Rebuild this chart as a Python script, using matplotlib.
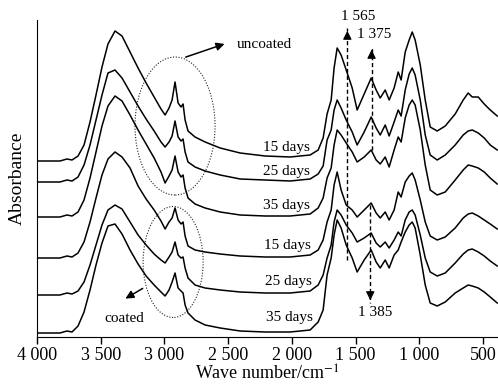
import matplotlib
matplotlib.use("Agg")
import matplotlib.pyplot as plt
import numpy as np
from matplotlib.patches import Ellipse

plt.rcParams["font.family"] = ["Liberation Serif", "DejaVu Serif"]
plt.rcParams["mathtext.fontset"] = "stix"

# wave numbers (cm-1) shared by all spectra
wavenumber = [4000, 3820, 3765, 3725, 3678, 3631, 3584, 3537, 3490, 3443,
              3388, 3333, 3270, 3207, 3144, 3081, 3027, 2995, 2964, 2940,
              2917, 2893, 2870, 2854, 2838, 2815, 2760, 2681, 2563, 2406,
              2210, 2014, 1857, 1794, 1755, 1724, 1692, 1669, 1645, 1614,
              1574, 1527, 1488, 1433, 1378, 1339, 1307, 1268, 1237, 1198,
              1166, 1143, 1111, 1080, 1056, 1033, 993, 954, 915, 860,
              797, 719, 656, 617, 585, 538, 491, 444, 389]

# stacked absorbance, in 0.01 a.u.
uncoated_15 = [176, 176, 178, 177, 181, 192, 215, 242, 270, 293,
               306, 301, 285, 269, 254, 240, 228, 222, 229, 237,
               255, 234, 230, 233, 217, 206, 200, 195, 189, 184,
               181, 180, 182, 187, 199, 223, 237, 269, 289, 282,
               267, 249, 227, 243, 259, 247, 239, 247, 237, 249,
               265, 257, 285, 297, 305, 297, 272, 237, 210, 206,
               211, 223, 237, 244, 240, 240, 233, 227, 221]
uncoated_25 = [155, 155, 157, 156, 160, 172, 192, 217, 242, 264,
               267, 259, 245, 231, 218, 206, 195, 190, 195, 201,
               216, 200, 196, 198, 185, 175, 170, 166, 162, 158,
               157, 156, 158, 163, 171, 197, 207, 227, 237, 229,
               217, 205, 192, 205, 220, 209, 202, 212, 201, 215,
               227, 221, 247, 263, 269, 262, 237, 202, 182, 177,
               182, 192, 202, 206, 207, 204, 199, 192, 187]
uncoated_35 = [120, 120, 122, 121, 125, 137, 159, 185, 211, 231,
               241, 236, 222, 207, 193, 179, 165, 154, 161, 167,
               181, 165, 160, 162, 149, 139, 133, 129, 125, 122,
               121, 121, 123, 129, 139, 159, 169, 192, 207, 202,
               194, 185, 175, 180, 187, 177, 173, 180, 170, 187,
               200, 195, 219, 232, 237, 232, 207, 172, 147, 142,
               145, 157, 167, 172, 171, 169, 165, 159, 153]
coated_15 = [79, 79, 81, 80, 84, 95, 115, 139, 162, 178,
             185, 180, 169, 151, 138, 127, 116, 108, 115, 119,
             129, 117, 113, 115, 101, 91, 87, 85, 83, 81,
             80, 80, 82, 87, 97, 115, 127, 152, 165, 147,
             132, 127, 120, 127, 134, 124, 119, 125, 117, 127,
             145, 140, 155, 161, 164, 157, 137, 115, 101, 97,
             100, 109, 119, 123, 124, 121, 117, 113, 108]
coated_25 = [42, 42, 44, 43, 46, 55, 72, 92, 112, 127,
             132, 128, 115, 102, 92, 83, 77, 74, 80, 85,
             95, 82, 79, 80, 69, 59, 52, 49, 47, 45,
             44, 44, 46, 52, 62, 79, 92, 115, 127, 122,
             112, 104, 95, 99, 104, 94, 90, 95, 89, 97,
             105, 101, 117, 125, 127, 122, 102, 79, 65, 61,
             64, 74, 83, 87, 88, 85, 81, 76, 71]
coated_35 = [4, 4, 6, 5, 11, 25, 47, 72, 94, 111,
             113, 103, 87, 73, 61, 52, 45, 41, 47, 55,
             64, 49, 46, 44, 32, 24, 17, 12, 9, 6,
             5, 5, 7, 15, 27, 62, 79, 102, 117, 109,
             92, 79, 65, 77, 87, 75, 69, 77, 69, 82,
             87, 95, 105, 112, 115, 109, 82, 52, 34, 31,
             35, 44, 49, 52, 51, 49, 45, 40, 34]

spectra = [uncoated_15, uncoated_25, uncoated_35, coated_15, coated_25, coated_35]
day_labels = ["15 days", "25 days", "35 days", "15 days", "25 days", "35 days"]
label_pos = [(1857, 1.89), (1857, 1.65), (1857, 1.32), (1849, 0.92), (1841, 0.55), (1833, 0.20)]

tick_values = [4000, 3500, 3000, 2500, 2000, 1500, 1000, 500]
tick_labels = ["4 000", "3 500", "3 000", "2 500", "2 000", "1 500", "1 000", "500"]

fig = plt.figure(figsize=(4.98, 3.9), dpi=100)
ax = fig.add_axes([37 / 498, 53 / 390, 461 / 498, 317 / 390])

for values in spectra:
    ax.plot(wavenumber, np.array(values) / 100, color="black", lw=1.1)

for text, (x, y) in zip(day_labels, label_pos):
    ax.text(x, y, text, ha="right", va="center", fontsize=11)

# dotted ellipses around the C-H bands
ax.add_patch(Ellipse((2917, 2.11), 628, 1.38, fill=False, ls=(0, (1, 1.5)),
                     lw=0.8, edgecolor="#222222"))
ax.add_patch(Ellipse((2932, 0.75), 471, 1.11, fill=False, ls=(0, (1, 1.5)),
                     lw=0.8, edgecolor="#222222"))

arrow = dict(arrowstyle="-|>", color="black", lw=1.1, mutation_scale=12)
ax.annotate("", xy=(2508, 2.94), xytext=(2854, 2.79), arrowprops=arrow)
ax.text(2430, 2.92, "uncoated", ha="left", va="center", fontsize=11)
ax.annotate("", xy=(3325, 0.37), xytext=(3152, 0.50), arrowprops=arrow)
ax.text(3474, 0.18, "coated", ha="left", va="center", fontsize=11)

# dashed marker arrows for the bands
bands = [(1565, 0.77, 3.09), (1375, 1.87, 2.90), (1385, 1.32, 0.34)]
for x, y0, y1 in bands:
    ax.plot([x, x], [y0, y1], color="black", lw=1.0, ls=(0, (3, 2)))
    step = 0.08 if y1 > y0 else -0.08
    ax.annotate("", xy=(x, y1), xytext=(x, y1 - step),
                arrowprops=dict(arrowstyle="-|>", color="black", lw=0.8,
                                mutation_scale=13))
ax.text(1480, 3.20, "1 565", ha="center", va="center", fontsize=11)
ax.text(1355, 3.02, "1 375", ha="center", va="center", fontsize=11)
ax.text(1347, 0.24, "1 385", ha="center", va="center", fontsize=11)

ax.set_xlim(4000, 383)
ax.set_ylim(0, 3.17)
ax.set_xticks(tick_values)
ax.set_xticklabels(tick_labels, fontsize=13)
ax.set_yticks([])
ax.tick_params(axis="x", direction="out", length=5, width=1, pad=2)
ax.spines["top"].set_visible(False)
ax.spines["right"].set_visible(False)
ax.set_xlabel("Wave number/cm$^{-1}$", fontsize=13, labelpad=1)
ax.set_ylabel("Absorbance", fontsize=14, labelpad=8)

fig.savefig("out.png", dpi=100)
